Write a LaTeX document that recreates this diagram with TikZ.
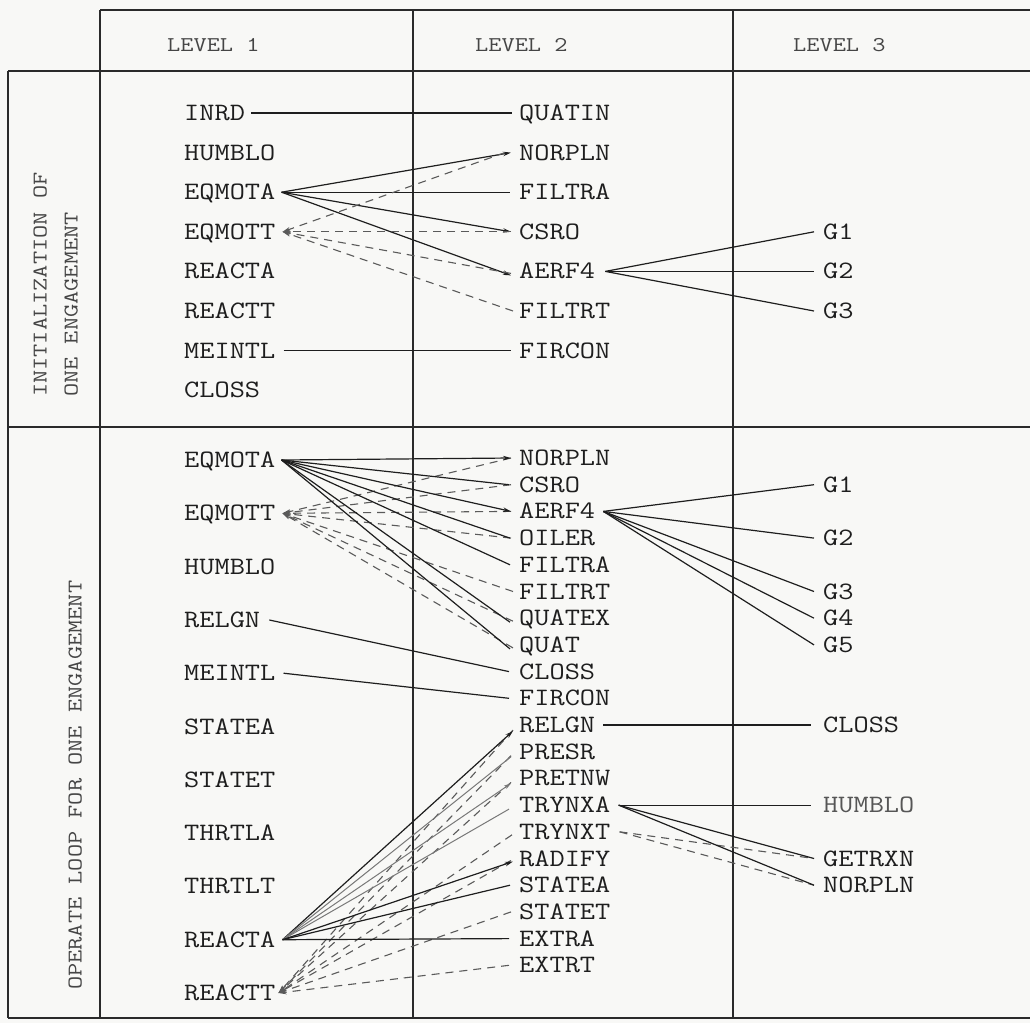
\documentclass[tikz,border=0pt]{standalone}
\usepackage{fontspec}
\usetikzlibrary{arrows.meta}
\definecolor{paper}{HTML}{F8F8F6}
\definecolor{ink}{HTML}{1E1E1E}
\definecolor{rule}{HTML}{2A2A2A}
\definecolor{head}{HTML}{454545}
\definecolor{dash}{HTML}{5A5A5A}
% typewriter lettering, widened to typewriter pitch
\newcommand\typew[1]{\scalebox{1.18}[1]{#1}}
\newcommand\headw[1]{\scalebox{1.22}[1]{#1}}
\begin{document}
\begin{tikzpicture}[x=1pt,y=-1pt,
  item/.style={font=\ttfamily\fontsize{25}{25}\selectfont, text=ink, inner sep=0pt,
               anchor=west, text height=15pt, text depth=0pt},
  headtext/.style={font=\ttfamily\fontsize{21}{21}\selectfont, text=head, inner sep=0pt,
               anchor=west, text height=13pt, text depth=0pt},
  grid/.style={draw=rule, line width=1.6pt},
  call/.style={draw=ink, line width=1.2pt},
  callto/.style={call, -{Stealth[length=8pt,width=4.5pt]}},
  faint/.style={draw=ink!60, line width=1pt},
  back/.style={draw=dash, line width=1.1pt, dash pattern=on 8pt off 6pt},
  backto/.style={back, -{Stealth[length=8pt,width=4.5pt]}},
]
% page
\useasboundingbox (0,0) rectangle (1030,1023);
\fill[paper] (0,0) rectangle (1030,1023);

% table rules
\draw[grid] (100,10) -- (1030,10);
\draw[grid] (8,71) -- (1030,71);
\draw[grid] (8,427) -- (1030,427);
\draw[grid] (8,1018) -- (1030,1018);
\draw[grid] (8,71) -- (8,1018);
\draw[grid] (100,10) -- (100,1018);
\draw[grid] (413,10) -- (413,1018);
\draw[grid] (733,10) -- (733,1018);

% column headings
\node[headtext] (h1) at (167,45) {\headw{LEVEL 1}};
\node[headtext] (h2) at (475,45) {\headw{LEVEL 2}};
\node[headtext] (h3) at (793,45) {\headw{LEVEL 3}};

% row headings
\node[headtext, rotate=90] (r1a) at (40,397) {\headw{INITIALIZATION OF}};
\node[headtext, rotate=90] (r1b) at (71,397) {\headw{ONE ENGAGEMENT}};
\node[headtext, rotate=90] (r2) at (75,990) {\headw{OPERATE LOOP FOR ONE ENGAGEMENT}};

% ---------- initialization: level 1 ----------
\node[item] (i1inrd) at (184,113)   {\typew{INRD}};
\node[item] (i1humb) at (184,152.6) {\typew{HUMBLO}};
\node[item] (i1eqa)  at (184,192.2) {\typew{EQMOTA}};
\node[item] (i1eqt)  at (184,231.8) {\typew{EQMOTT}};
\node[item] (i1rea)  at (184,271.4) {\typew{REACTA}};
\node[item] (i1ret)  at (184,311)   {\typew{REACTT}};
\node[item] (i1mei)  at (184,350.6) {\typew{MEINTL}};
\node[item] (i1clo)  at (184,390.2) {\typew{CLOSS}};
% level 2
\node[item] (i2quat) at (519,113)   {\typew{QUATIN}};
\node[item] (i2norp) at (519,152.6) {\typew{NORPLN}};
\node[item] (i2fila) at (519,192.2) {\typew{FILTRA}};
\node[item] (i2csro) at (519,231.8) {\typew{CSRO}};
\node[item] (i2aerf) at (519,271.4) {\typew{AERF4}};
\node[item] (i2filt) at (519,311)   {\typew{FILTRT}};
\node[item] (i2firc) at (519,350.6) {\typew{FIRCON}};
% level 3
\node[item] (i3g1) at (823,231.8) {\typew{G1}};
\node[item] (i3g2) at (823,271.4) {\typew{G2}};
\node[item] (i3g3) at (823,311)   {\typew{G3}};

% fan points
\coordinate (i1eqa-p) at ([xshift=6pt]i1eqa.east);
\coordinate (i1eqt-p) at ([xshift=7pt]i1eqt.east);
\coordinate (i2aerf-p) at ([xshift=10pt]i2aerf.east);

% connectors
\draw[call] ([xshift=6pt]i1inrd.east) -- ([xshift=-7pt]i2quat.west);
\draw[call] ([xshift=8pt]i1mei.east) -- ([xshift=-8pt]i2firc.west);
\draw[callto] (i1eqa-p) -- ([xshift=-8pt]i2norp.west);
\draw[call]   (i1eqa-p) -- ([xshift=-9pt]i2fila.west);
\draw[callto] (i1eqa-p) -- ([xshift=-8pt]i2csro.west);
\draw[callto] (i1eqa-p) -- ([shift={(-8pt,-4pt)}]i2aerf.west);
\draw[backto] ([xshift=-14pt]i2norp.west) -- (i1eqt-p);
\draw[backto] ([xshift=-8pt]i2csro.west) -- (i1eqt-p);
\draw[backto] ([shift={(-8pt,-2pt)}]i2aerf.west) -- (i1eqt-p);
\draw[backto] ([xshift=-6pt]i2filt.west) -- (i1eqt-p);
\draw[call] (i2aerf-p) -- ([xshift=-9pt]i3g1.west);
\draw[call] (i2aerf-p) -- ([xshift=-9pt]i3g2.west);
\draw[call] (i2aerf-p) -- ([xshift=-9pt]i3g3.west);

% ---------- operate loop: level 1 ----------
\node[item] (o1eqa)  at (184,460)   {\typew{EQMOTA}};
\node[item] (o1eqt)  at (184,513.3) {\typew{EQMOTT}};
\node[item] (o1humb) at (184,566.6) {\typew{HUMBLO}};
\node[item] (o1relg) at (184,620)   {\typew{RELGN}};
\node[item] (o1mei)  at (184,673.2) {\typew{MEINTL}};
\node[item] (o1sta)  at (184,726.5) {\typew{STATEA}};
\node[item] (o1stt)  at (184,779.8) {\typew{STATET}};
\node[item] (o1thra) at (184,833)   {\typew{THRTLA}};
\node[item] (o1thrt) at (184,886.4) {\typew{THRTLT}};
\node[item] (o1rea)  at (184,939.7) {\typew{REACTA}};
\node[item] (o1ret)  at (184,993)   {\typew{REACTT}};
% level 2
\node[item] (o2norp) at (519,458)   {\typew{NORPLN}};
\node[item] (o2csro) at (519,484.7) {\typew{CSRO}};
\node[item] (o2aerf) at (519,511.4) {\typew{AERF4}};
\node[item] (o2oil)  at (519,538.1) {\typew{OILER}};
\node[item] (o2fila) at (519,564.8) {\typew{FILTRA}};
\node[item] (o2filt) at (519,591.5) {\typew{FILTRT}};
\node[item] (o2qtex) at (519,618.2) {\typew{QUATEX}};
\node[item] (o2quat) at (519,644.9) {\typew{QUAT}};
\node[item] (o2clo)  at (519,671.6) {\typew{CLOSS}};
\node[item] (o2firc) at (519,698.3) {\typew{FIRCON}};
\node[item] (o2relg) at (519,725)   {\typew{RELGN}};
\node[item] (o2pres) at (519,751.7) {\typew{PRESR}};
\node[item] (o2pret) at (519,778.4) {\typew{PRETNW}};
\node[item] (o2tra)  at (519,805.1) {\typew{TRYNXA}};
\node[item] (o2trt)  at (519,831.8) {\typew{TRYNXT}};
\node[item] (o2rad)  at (519,858.5) {\typew{RADIFY}};
\node[item] (o2sta)  at (519,885.2) {\typew{STATEA}};
\node[item] (o2stt)  at (519,911.9) {\typew{STATET}};
\node[item] (o2exa)  at (519,938.6) {\typew{EXTRA}};
\node[item] (o2ext)  at (519,965.3) {\typew{EXTRT}};
% level 3
\node[item] (o3g1)   at (823,484.7) {\typew{G1}};
\node[item] (o3g2)   at (823,538.1) {\typew{G2}};
\node[item] (o3g3)   at (823,591.5) {\typew{G3}};
\node[item] (o3g4)   at (823,618.2) {\typew{G4}};
\node[item] (o3g5)   at (823,644.9) {\typew{G5}};
\node[item] (o3clo)  at (823,725)   {\typew{CLOSS}};
\node[item, text=ink!75] (o3humb) at (823,805.1) {\typew{HUMBLO}};
\node[item] (o3getr) at (823,858.5) {\typew{GETRXN}};
\node[item] (o3norp) at (823,885.2) {\typew{NORPLN}};

% fan points
\coordinate (o1eqa-p) at ([xshift=6pt]o1eqa.east);
\coordinate (o1eqt-p) at ([xshift=7pt]o1eqt.east);
\coordinate (o1rea-p) at ([xshift=7pt]o1rea.east);
\coordinate (o1ret-p) at ([xshift=3pt]o1ret.east);
\coordinate (o2aerf-p) at ([xshift=8pt]o2aerf.east);
\coordinate (o2tra-p) at ([xshift=8pt]o2tra.east);
\coordinate (o2trt-p) at ([xshift=9pt]o2trt.east);

% EQMOTT (dashed, drawn first so solid lines sit on top)
\foreach \t/\dx/\dy in {o2norp/-8/0, o2csro/-8/0, o2aerf/-8/0, o2oil/-8/0,
                        o2filt/-6/0, o2qtex/-6/-3, o2quat/-6/-3}
  \draw[backto] ([shift={(\dx pt,\dy pt)}]\t.west) -- (o1eqt-p);
% EQMOTA
\draw[callto] (o1eqa-p) -- ([xshift=-8pt]o2norp.west);
\draw[call]   (o1eqa-p) -- ([xshift=-10pt]o2csro.west);
\draw[callto] (o1eqa-p) -- ([xshift=-8pt]o2aerf.west);
\draw[call]   (o1eqa-p) -- ([xshift=-9pt]o2oil.west);
\draw[call]   (o1eqa-p) -- ([xshift=-9pt]o2fila.west);
\draw[call]   (o1eqa-p) -- ([shift={(-9pt,-4pt)}]o2qtex.west);
\draw[call]   (o1eqa-p) -- ([shift={(-9pt,-4pt)}]o2quat.west);
% single calls
\draw[call] ([xshift=9pt]o1relg.east) -- ([xshift=-10pt]o2clo.west);
\draw[call] ([xshift=8pt]o1mei.east) -- ([xshift=-10pt]o2firc.west);
\draw[call] ([xshift=8pt]o2relg.east) -- ([xshift=-12pt]o3clo.west);
% AERF4
\foreach \g in {o3g1,o3g2,o3g3,o3g4,o3g5}
  \draw[call] (o2aerf-p) -- ([xshift=-9pt]\g.west);
% TRYNXA / TRYNXT
\draw[back] (o2trt-p) -- ([xshift=-9pt]o3getr.west);
\draw[back] (o2trt-p) -- ([xshift=-9pt]o3norp.west);
\draw[call] (o2tra-p) -- ([xshift=-12pt]o3humb.west);
\draw[call] (o2tra-p) -- ([xshift=-9pt]o3getr.west);
\draw[call] (o2tra-p) -- ([xshift=-9pt]o3norp.west);
% REACTT (dashed)
\foreach \t/\dx/\dy in {o2relg/-6/-5, o2pres/-8/-4, o2pret/-8/-4, o2trt/-7/-3,
                        o2rad/-8/-2, o2stt/-8/0, o2ext/-10/0}
  \draw[backto] ([shift={(\dx pt,\dy pt)}]\t.west) -- (o1ret-p);
% REACTA
\draw[callto] (o1rea-p) -- ([shift={(-6pt,-6pt)}]o2relg.west);
\draw[faint]  (o1rea-p) -- ([shift={(-8pt,-5pt)}]o2pres.west);
\draw[faint, -{Stealth[length=7pt,width=4pt]}] (o1rea-p) -- ([shift={(-8pt,-5pt)}]o2pret.west);
\draw[faint]  (o1rea-p) -- ([shift={(-10pt,-4pt)}]o2tra.west);
\draw[callto] (o1rea-p) -- ([shift={(-6pt,-3pt)}]o2rad.west);
\draw[call]   (o1rea-p) -- ([xshift=-9pt]o2sta.west);
\draw[call]   (o1rea-p) -- ([xshift=-10pt]o2exa.west);
\end{tikzpicture}
\end{document}
